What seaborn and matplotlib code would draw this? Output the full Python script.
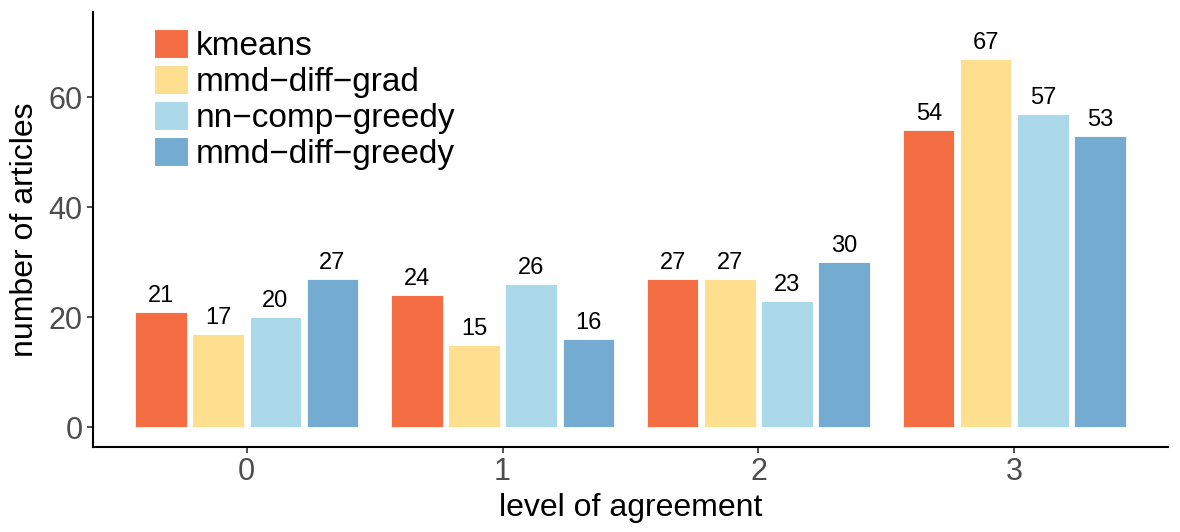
import pandas as pd
import numpy as np
import seaborn as sns
import matplotlib.pyplot as plt
import matplotlib.patches as mpatches

# data
levels = ["0", "1", "2", "3"]
methods = ["kmeans", "mmd\u2212diff\u2212grad", "nn\u2212comp\u2212greedy", "mmd\u2212diff\u2212greedy"]
kmeans = [21, 24, 27, 54]
mmd_diff_grad = [17, 15, 27, 67]
nn_comp_greedy = [20, 26, 23, 57]
mmd_diff_greedy = [27, 16, 30, 53]
colors = ["#F46D43", "#FDDF8F", "#ABD9E9", "#74ABD0"]

rows = []
for m, vals in zip(methods, [kmeans, mmd_diff_grad, nn_comp_greedy, mmd_diff_greedy]):
    for lv, v in zip(levels, vals):
        rows.append({"level": lv, "method": m, "count": v})
df = pd.DataFrame(rows)

sns.set_style("white")
plt.rcParams['font.family'] = ['Liberation Sans', 'DejaVu Sans']
plt.rcParams['text.color'] = 'black'
plt.rcParams['axes.labelcolor'] = 'black'

fig = plt.figure(figsize=(11.8, 5.32), dpi=100)
ax = fig.add_axes([93 / 1180, 85 / 532, 1075 / 1180, 435 / 532])

sns.barplot(data=df, x="level", y="count", hue="method", order=levels,
            hue_order=methods, palette=colors, saturation=1, width=0.892,
            edgecolor="white", linewidth=0.6, ax=ax, legend=False)

# narrow the bars a little so white gaps show between them
bw = 0.2
for p in ax.patches:
    w = p.get_width()
    p.set_x(p.get_x() + (w - bw) / 2)
    p.set_width(bw)

for c in ax.containers:
    ax.bar_label(c, fontsize=17, padding=3.5, color="black")

ax.set_xlim(-0.6, 3.6)
ax.set_ylim(-3.6, 75.5)
ax.set_yticks([0, 20, 40, 60])
ax.set_xlabel("level of agreement", fontsize=23, labelpad=4, color="black")
ax.set_ylabel("number of articles", fontsize=23, labelpad=6, color="black")
ax.tick_params(axis="both", labelsize=22, labelcolor="#4D4D4D", color="#333333",
               length=4.5, width=1.2, pad=3, direction="out", bottom=True, left=True)
sns.despine(ax=ax)
for s in ["left", "bottom"]:
    ax.spines[s].set_color("black")
    ax.spines[s].set_linewidth(1.5)

handles = [mpatches.Patch(facecolor=col, edgecolor="white", linewidth=0.8, label=m)
           for col, m in zip(colors, methods)]
ax.legend(handles=handles, loc="upper left", bbox_to_anchor=(0.057, 0.962),
          frameon=False, fontsize=24, handlelength=1.0, handleheight=1.0,
          handletextpad=0.25, labelspacing=0.08, borderpad=0, borderaxespad=0,
          labelcolor="black")

fig.savefig("out.png", dpi=100)
